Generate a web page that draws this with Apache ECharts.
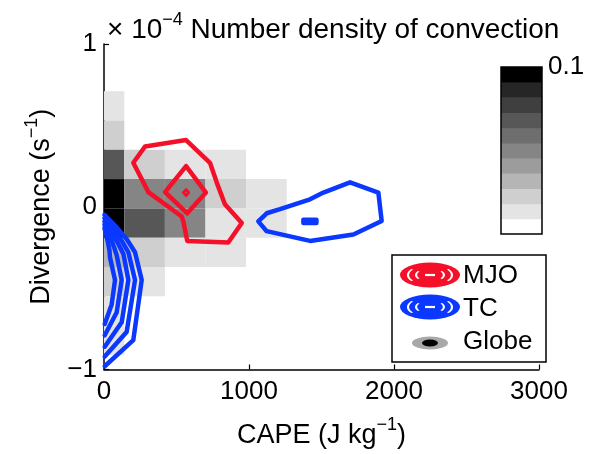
<!DOCTYPE html>
<html>
<head>
<meta charset="utf-8">
<script src="https://cdn.jsdelivr.net/npm/echarts@6/dist/echarts.min.js"></script>
<style>
    html, body { margin: 0; padding: 0; background: #fff; }
    #chart { width: 600px; height: 454px; }
</style>
</head>
<body>
<div id="chart"></div>
<script>
// histogram bin centres (CAPE in J/kg, divergence in 1e-4 s^-1)
const capeBins = [0, 280, 560, 840, 1120];
const divBins = [0.62, 0.44, 0.26, 0.08, -0.10, -0.28, -0.46, -0.64, -0.82];
// number density of convection, one row per divergence bin
const density = [
    [0.01, 0, 0, 0, 0],
    [0.02, 0, 0, 0, 0],
    [0.07, 0.02, 0.01, 0.01, 0],
    [0.10, 0.05, 0.05, 0.02, 0.01],
    [0.10, 0.07, 0.05, 0.01, 0.01],
    [0.03, 0.02, 0.01, 0.01, 0],
    [0.02, 0.01, 0, 0, 0],
    [0.01, 0, 0, 0, 0],
    [0.01, 0, 0, 0, 0],
];
// colour bar levels 0 .. 0.1
const levels = [0, 0.01, 0.02, 0.03, 0.04, 0.05, 0.06, 0.07, 0.08, 0.09, 0.1];
const grays = ['#ffffff', '#e4e4e4', '#cfcfcf', '#b5b5b5', '#9c9c9c', '#858585',
    '#6e6e6e', '#575757', '#3f3f3f', '#262626', '#000000'];

// MJO contours [CAPE, divergence]
const mjoOuter = [[283, 0.37], [566, 0.41], [731, 0.27], [777, 0.15], [834, 0.015], [950, -0.10],
    [857, -0.22], [574, -0.21], [547, -0.09], [536, -0.06], [306, 0.09], [202, 0.27], [283, 0.37]];
const mjoInner = [[566, 0.25], [703, 0.087], [574, -0.04], [421, 0.09], [566, 0.25]];
const mjoCore = [[548, 0.087], [566, 0.105], [584, 0.087], [566, 0.069], [548, 0.087]];

// TC contours
const tcLoop = [[1064, -0.09], [1122, -0.04], [1214, -0.015], [1421, 0.046], [1513, 0.087], [1697, 0.15],
    [1892, 0.087], [1915, -0.087], [1720, -0.17], [1421, -0.21], [1122, -0.15], [1064, -0.09]];
const tcCore = [[1375, -0.08], [1465, -0.08], [1465, -0.10], [1375, -0.10], [1375, -0.08]];
const tcEdge1 = [[3, -0.05], [90, -0.13], [157, -0.20], [214, -0.28], [260, -0.45], [202, -0.82], [5, -0.98]];
const tcEdge2 = [[3, -0.07], [75, -0.15], [130, -0.22], [168, -0.28], [214, -0.45], [156, -0.77], [5, -0.92]];
const tcEdge3 = [[3, -0.09], [60, -0.17], [100, -0.23], [134, -0.29], [168, -0.45], [122, -0.71], [5, -0.86]];
const tcEdge4 = [[3, -0.11], [45, -0.19], [70, -0.25], [88, -0.30], [122, -0.45], [87, -0.65], [5, -0.79]];
const tcEdge5 = [[3, -0.13], [25, -0.21], [38, -0.27], [41, -0.31], [76, -0.45], [53, -0.60], [5, -0.72]];

const capeStep = 280;
const divStep = 0.18;
const FONT = 'Liberation Sans, Arial, Helvetica, sans-serif';
const RED = '#f5102a';
const BLUE = '#0a38ff';

const cells = [];
divBins.forEach((d, i) => {
    capeBins.forEach((c, j) => {
        if (density[i][j] > 0) cells.push([c, d, density[i][j]]);
    });
});

const renderCell = (params, api) => {
    const x = api.value(0);
    const y = api.value(1);
    const p1 = api.coord([x - capeStep / 2, y + divStep / 2]);
    const p2 = api.coord([x + capeStep / 2, y - divStep / 2]);
    const cs = params.coordSys;
    const shape = echarts.graphic.clipRectByRect(
        {x: p1[0], y: p1[1], width: p2[0] - p1[0], height: p2[1] - p1[1]},
        {x: cs.x, y: cs.y, width: cs.width, height: cs.height}
    );
    if (!shape) return;
    return {type: 'rect', shape: shape, style: {fill: grays[Math.round(api.value(2) / 0.01)]}};
};

const barStep = 0.1 / levels.length;
const renderBand = (params, api) => {
    const i = api.value(0);
    const p1 = api.coord([0, (i + 1) * barStep]);
    const p2 = api.coord([1, i * barStep]);
    return {
        type: 'rect',
        shape: {x: p1[0], y: p1[1], width: p2[0] - p1[0], height: p2[1] - p1[1] + 0.5},
        style: {fill: grays[i]},
    };
};

const contour = (data, color, width) => ({
    type: 'line',
    data: data,
    symbol: 'none',
    silent: true,
    clip: true,
    lineStyle: {color: color, width: width, cap: 'round', join: 'round'},
    z: 3,
});

const supRich = {
    sup: {fontSize: 18, fontFamily: FONT, color: '#000', padding: [0, 0, 20, 0]},
};

const whiteArc = (r, a0, a1) => ({
    type: 'arc', x: 430, scaleY: 0.45,
    shape: {cx: 0, cy: 0, r: r, startAngle: a0, endAngle: a1},
    style: {stroke: '#fff', lineWidth: 2.2, fill: null},
});

// legend icon: filled ellipse with white contour marks
const legendIcon = (cy, color) => {
    const arcs = [
        whiteArc(22, Math.PI * 0.8, Math.PI * 1.2),
        whiteArc(14, Math.PI * 0.8, Math.PI * 1.2),
        whiteArc(22, -Math.PI * 0.2, Math.PI * 0.2),
        whiteArc(14, -Math.PI * 0.2, Math.PI * 0.2),
    ];
    arcs.forEach(a => { a.y = cy; a.z = 12; });
    return [
        {type: 'circle', x: 430, y: cy, scaleY: 12.5 / 30, shape: {cx: 0, cy: 0, r: 30}, style: {fill: color}, z: 11},
        ...arcs,
        {type: 'line', shape: {x1: 425, y1: cy, x2: 435, y2: cy}, style: {stroke: '#fff', lineWidth: 2.2}, z: 12},
    ];
};

const legendText = (y, text) => ({
    type: 'text', x: 463, y: y, z: 12,
    style: {text: text, font: '26px ' + FONT, fill: '#000', verticalAlign: 'middle', textVerticalAlign: 'middle'},
});

const chart = echarts.init(document.getElementById('chart'), null, {renderer: 'canvas'});

chart.setOption({
    animation: false,
    backgroundColor: '#fff',
    title: {
        text: '× 10{sup|−4} Number density of convection',
        left: 102,
        top: 6,
        textStyle: {fontSize: 28, fontWeight: 'normal', fontFamily: FONT, color: '#000', rich: supRich},
    },
    grid: [
        {left: 104, right: 61, top: 44, bottom: 83},
        {left: 501, top: 67, width: 41, height: 167, show: true, borderColor: '#000', borderWidth: 1.5, backgroundColor: 'transparent', z: 5},
    ],
    xAxis: [
        {
            type: 'value',
            min: 0,
            max: 3000,
            interval: 1000,
            name: 'CAPE (J kg{sup|−1})',
            nameLocation: 'middle',
            nameGap: 47,
            nameTextStyle: {fontSize: 27, fontFamily: FONT, color: '#000', rich: supRich},
            axisLine: {onZero: false, lineStyle: {color: '#000', width: 1.5}},
            axisTick: {inside: true, length: 5, lineStyle: {color: '#000', width: 1.2}},
            axisLabel: {fontSize: 26, fontFamily: FONT, color: '#000', margin: 9, formatter: v => String(v)},
            splitLine: {show: false},
        },
        {gridIndex: 1, type: 'value', min: 0, max: 1, show: false},
    ],
    yAxis: [
        {
            type: 'value',
            min: -1,
            max: 1,
            interval: 1,
            name: 'Divergence (s{sup|−1})',
            nameLocation: 'middle',
            nameRotate: 90,
            nameGap: 43,
            nameTextStyle: {fontSize: 27, fontFamily: FONT, color: '#000', rich: supRich},
            axisLine: {show: true, onZero: false, lineStyle: {color: '#000', width: 1.5}},
            axisTick: {show: true, inside: true, length: 5, lineStyle: {color: '#000', width: 1.2}},
            axisLabel: {
                fontSize: 26, fontFamily: FONT, color: '#000', margin: 7,
                formatter: v => String(v).replace('-', '−'),
            },
            splitLine: {show: false},
        },
        {
            gridIndex: 1,
            type: 'value',
            min: 0,
            max: 0.1,
            interval: 0.1,
            position: 'right',
            axisLine: {show: false},
            axisTick: {show: false},
            splitLine: {show: false},
            axisLabel: {showMinLabel: false, fontSize: 26, fontFamily: FONT, color: '#000', margin: 6},
        },
    ],
    series: [
        {type: 'custom', renderItem: renderCell, data: cells, silent: true, z: 1},
        contour(mjoOuter, RED, 4.5),
        contour(mjoInner, RED, 4.5),
        contour(mjoCore, RED, 3),
        contour(tcLoop, BLUE, 4.5),
        contour(tcCore, BLUE, 4.5),
        contour(tcEdge1, BLUE, 4.5),
        contour(tcEdge2, BLUE, 4.5),
        contour(tcEdge3, BLUE, 4.5),
        contour(tcEdge4, BLUE, 4.5),
        contour(tcEdge5, BLUE, 4.5),
        {
            type: 'custom',
            xAxisIndex: 1,
            yAxisIndex: 1,
            renderItem: renderBand,
            data: levels.map((v, i) => [i, v]),
            silent: true,
        },
    ],
    graphic: [
        {type: 'rect', shape: {x: 392, y: 255, width: 154, height: 107}, style: {fill: '#fff', stroke: '#000', lineWidth: 1.5}, z: 10},
        ...legendIcon(275, RED),
        ...legendIcon(307, BLUE),
        {type: 'circle', x: 430, y: 343, scaleY: 6.5 / 18, shape: {cx: 0, cy: 0, r: 18}, style: {fill: '#a8a8a8'}, z: 11},
        {type: 'circle', x: 430, y: 343, scaleY: 3.5 / 8, shape: {cx: 0, cy: 0, r: 8}, style: {fill: '#000'}, z: 12},
        legendText(276, 'MJO'),
        legendText(309, 'TC'),
        legendText(342, 'Globe'),
    ],
});
</script>
</body>
</html>
